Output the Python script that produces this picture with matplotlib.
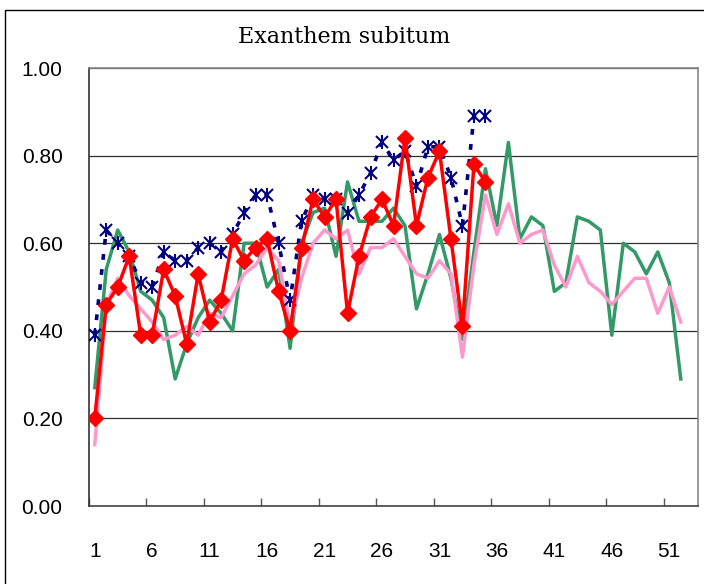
import matplotlib
matplotlib.use("Agg")
import matplotlib.pyplot as plt
from matplotlib.patches import Rectangle

# weekly values
weeks = list(range(1, 53))

green_vals = [0.27, 0.54, 0.63, 0.58, 0.49, 0.47, 0.43, 0.29, 0.37, 0.43,
              0.47, 0.44, 0.40, 0.60, 0.60, 0.50, 0.54, 0.36, 0.60, 0.67,
              0.68, 0.57, 0.74, 0.65, 0.65, 0.65, 0.68, 0.64, 0.45, 0.53,
              0.62, 0.52, 0.38, 0.58, 0.77, 0.64, 0.83, 0.61, 0.66, 0.64,
              0.49, 0.51, 0.66, 0.65, 0.63, 0.39, 0.60, 0.58, 0.53, 0.58,
              0.51, 0.29]

pink_vals = [0.14, 0.46, 0.52, 0.48, 0.45, 0.42, 0.38, 0.39, 0.41, 0.39,
             0.44, 0.43, 0.48, 0.53, 0.55, 0.59, 0.56, 0.41, 0.52, 0.60,
             0.63, 0.61, 0.63, 0.53, 0.59, 0.59, 0.61, 0.57, 0.53, 0.52,
             0.56, 0.53, 0.34, 0.55, 0.71, 0.62, 0.69, 0.60, 0.62, 0.63,
             0.55, 0.50, 0.57, 0.51, 0.49, 0.46, 0.49, 0.52, 0.52, 0.44,
             0.50, 0.42]

navy_vals = [0.39, 0.63, 0.60, 0.57, 0.51, 0.50, 0.58, 0.56, 0.56, 0.59,
             0.60, 0.58, 0.62, 0.67, 0.71, 0.71, 0.60, 0.47, 0.65, 0.71,
             0.70, 0.70, 0.67, 0.71, 0.76, 0.83, 0.79, 0.81, 0.73, 0.82,
             0.82, 0.75, 0.64, 0.89, 0.89]

red_vals = [0.20, 0.46, 0.50, 0.57, 0.39, 0.39, 0.54, 0.48, 0.37, 0.53,
            0.42, 0.47, 0.61, 0.56, 0.59, 0.61, 0.49, 0.40, 0.59, 0.70,
            0.66, 0.70, 0.44, 0.57, 0.66, 0.70, 0.64, 0.84, 0.64, 0.75,
            0.81, 0.61, 0.41, 0.78, 0.74]

x_labels = ["1", "6", "11", "16", "21", "26", "31", "36", "41", "46", "51"]
y_ticks = [0.0, 0.2, 0.4, 0.6, 0.8, 1.0]

W, H = 704, 584
fig = plt.figure(figsize=(W / 100, H / 100), dpi=100)
ax = fig.add_axes([89 / W, (H - 506) / H, (698 - 89) / W, (506 - 68) / H])

# outer chart border
fig.patches.append(Rectangle((5 / W, -0.1), 2, 1.1 - 10 / H, transform=fig.transFigure,
                             fill=False, ec="black", lw=1.0))

ax.plot(weeks, green_vals, color="#339966", lw=2.5, zorder=3)
ax.plot(weeks, pink_vals, color="#FF99CC", lw=2.5, zorder=4)

wk35 = weeks[:len(navy_vals)]
ax.plot(wk35, navy_vals, color="#000080", lw=2.6, ls=(0, (1.6, 2.6)), zorder=5)
ax.plot(wk35, navy_vals, ls="none", marker="x", ms=8, mew=1.5, color="#000080", zorder=5)
ax.plot(wk35, navy_vals, ls="none", marker="|", ms=10, mew=1.5, color="#000080", zorder=5)

ax.plot(weeks[:len(red_vals)], red_vals, color="#FF0000", lw=2.5, marker="D", ms=8.5,
        zorder=6)

ax.set_xlim(0.5, 53.5)
ax.set_ylim(0, 1.0)

ax.set_yticks(y_ticks)
ax.set_yticklabels(["%.2f" % v for v in y_ticks])
ax.tick_params(axis="y", length=0, pad=19, labelsize=15)
ax.yaxis.grid(True, color="#303030", lw=0.9)
ax.set_axisbelow(True)

# tick marks between categories, labels under the categories
ax.set_xticks([0.5 + 5 * i for i in range(11)])
ax.set_xticklabels([])
ax.tick_params(axis="x", which="major", direction="in", length=6, width=1, color="#555555")
ax.set_xticks([1 + 5 * i for i in range(11)], minor=True)
ax.set_xticklabels(x_labels, minor=True)
ax.tick_params(axis="x", which="minor", length=0, pad=26, labelsize=15)

for lab in ax.get_xticklabels(minor=True) + ax.get_yticklabels():
    lab.set_family("Liberation Sans")

ax.spines["left"].set_color("#333333")
ax.spines["bottom"].set_color("#444444")
ax.spines["top"].set_color("#888888")
ax.spines["right"].set_color("#888888")
for s in ax.spines.values():
    s.set_linewidth(1.2)

fig.text(344 / W, 1 - 37 / H, "Exanthem subitum", ha="center", va="center",
         family="DejaVu Serif", fontsize=16)

fig.savefig("out.png", dpi=100)
